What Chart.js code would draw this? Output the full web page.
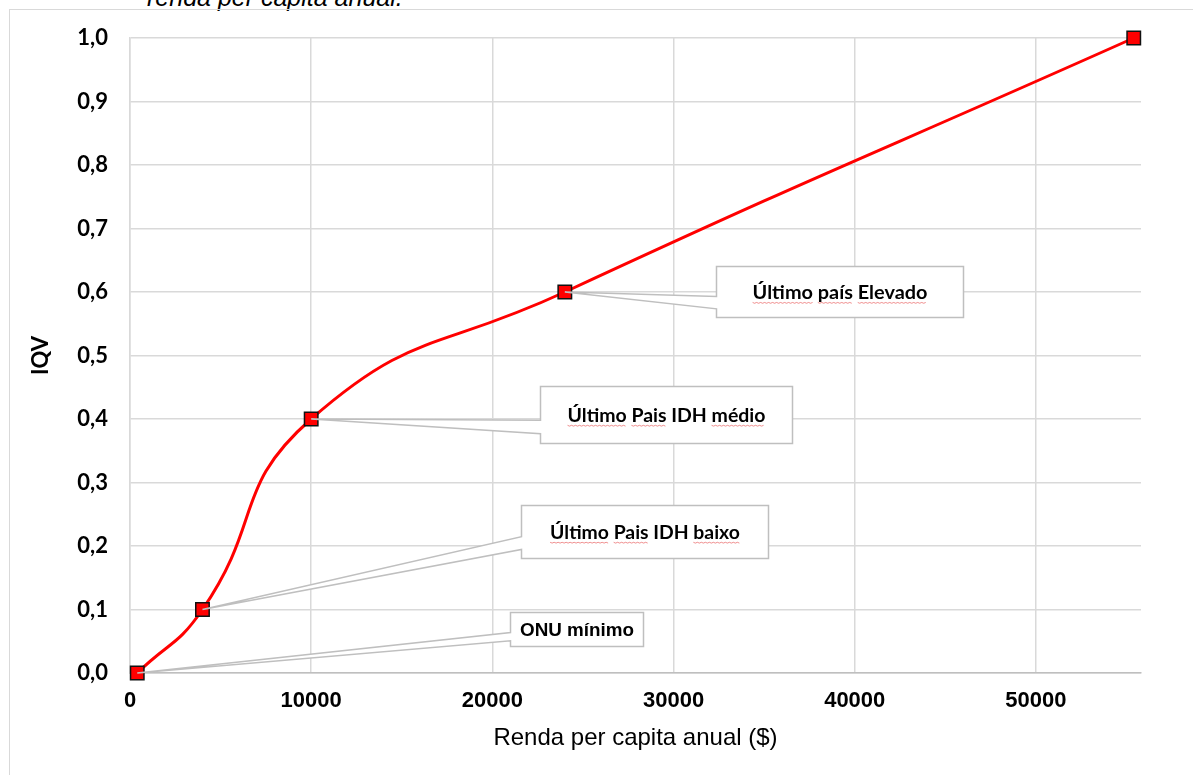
<!DOCTYPE html>
<html>
<head>
<meta charset="utf-8">
<script src="https://cdn.jsdelivr.net/npm/chart.js@4"></script>
<style>
  html, body { margin: 0; padding: 0; background: #fff; overflow: hidden; }
  body { width: 1193px; height: 775px; position: relative; }
  #caption { position: absolute; left: 147px; top: -17px; font: italic 25px "Liberation Sans", Arial, sans-serif; color: #000; white-space: nowrap; }
  #frame { position: absolute; left: 9px; top: 9px; width: 1300px; height: 900px; border: 1px solid #d9d9d9; }
  #wrap { position: absolute; left: 0; top: 0; width: 1193px; height: 775px; }
</style>
</head>
<body>
<div id="caption">renda per capita anual.</div>
<div id="frame"></div>
<div id="wrap"><canvas id="canvas"></canvas></div>
<script>
// data
const renda = [400, 4000, 10000, 24000, 55400];
const iqv = [0, 0.1, 0.4, 0.6, 1.0];
const xTicks = [0, 10000, 20000, 30000, 40000, 50000];
const yTicks = [0, 0.1, 0.2, 0.3, 0.4, 0.5, 0.6, 0.7, 0.8, 0.9, 1.0];
const labelTexts = ['ONU mínimo', 'Último Pais IDH baixo', 'Último Pais IDH médio', 'Último país Elevado'];

const calloutPlugin = {
  id: 'callouts',
  afterDatasetsDraw(chart, args, opts) {
    const {ctx, scales: {x, y}} = chart;
    const meta = chart.getDatasetMeta(0);
    opts.items.forEach(item => {
      const pt = meta.data[item.index];
      const cx = x.getPixelForValue(item.x), cy = y.getPixelForValue(item.y);
      const l = Math.round(cx - item.w / 2) + 0.5, t = Math.round(cy - item.h / 2) + 0.5;
      const r = l + item.w, b = t + item.h;
      const a1 = t + item.h * 0.59, a2 = t + item.h * 0.83;
      ctx.save();
      ctx.beginPath();
      ctx.moveTo(l, t); ctx.lineTo(r, t); ctx.lineTo(r, b); ctx.lineTo(l, b);
      ctx.lineTo(l, a2); ctx.lineTo(pt.x, pt.y); ctx.lineTo(l, a1); ctx.closePath();
      ctx.fillStyle = '#fff';
      ctx.fill();
      ctx.strokeStyle = '#bfbfbf';
      ctx.lineWidth = 1.5;
      ctx.stroke();

      // text, sized to the width seen in the picture
      ctx.font = 'bold 20px ' + item.family;
      const size = 20 * item.textWidth / ctx.measureText(item.text).width;
      ctx.font = 'bold ' + size.toFixed(2) + 'px ' + item.family;
      const tw = ctx.measureText(item.text).width;
      const tx = (l + r) / 2 - tw / 2;
      const base = (t + b) / 2 + size * 0.35;
      ctx.fillStyle = '#000';
      ctx.textBaseline = 'alphabetic';
      ctx.textAlign = 'left';
      ctx.fillText(item.text, tx, base);

      // spell-check squiggles
      (item.flagged || []).forEach(word => {
        const i = item.text.indexOf(word);
        if (i < 0) return;
        const sx = tx + ctx.measureText(item.text.slice(0, i)).width;
        const ww = ctx.measureText(word).width;
        ctx.beginPath();
        for (let k = 0; k <= ww; k += 2) {
          const yy = base + 3.5 + ((k / 2) % 2 ? 0.8 : 0);
          if (k === 0) ctx.moveTo(sx + k, yy); else ctx.lineTo(sx + k, yy);
        }
        ctx.strokeStyle = 'rgba(230,80,80,0.8)';
        ctx.lineWidth = 0.8;
        ctx.stroke();
      });
      ctx.restore();
    });
  }
};

new Chart(document.getElementById('canvas').getContext('2d'), {
  type: 'line',
  data: {
    datasets: [{
      data: renda.map((v, i) => ({x: v, y: iqv[i]})),
      borderColor: '#ff0000',
      borderWidth: 3,
      tension: 0.5,
      pointStyle: 'rect',
      pointRadius: 9.5,
      pointHoverRadius: 9.5,
      pointBackgroundColor: '#ff0000',
      pointBorderColor: '#111',
      pointBorderWidth: 1.5,
      clip: false
    }]
  },
  options: {
    responsive: true,
    maintainAspectRatio: false,
    animation: false,
    events: [],
    layout: { padding: { left: 0, top: 38, right: 52, bottom: 0 } },
    plugins: {
      legend: { display: false },
      tooltip: { enabled: false },
      callouts: {
        items: [
          { index: 0, text: labelTexts[0], x: 24670, y: 0.069, w: 133, h: 34, textWidth: 114, family: '"Liberation Sans", Arial' },
          { index: 1, text: labelTexts[1], x: 28370, y: 0.223, w: 247, h: 53, textWidth: 190, family: 'Lato', flagged: ['Último', 'Pais', 'baixo'] },
          { index: 2, text: labelTexts[2], x: 29610, y: 0.407, w: 252, h: 57, textWidth: 198, family: 'Lato', flagged: ['Último', 'Pais', 'médio'] },
          { index: 3, text: labelTexts[3], x: 39140, y: 0.6005, w: 247, h: 51, textWidth: 175, family: 'Lato', flagged: ['Último', 'país', 'Elevado'] }
        ]
      }
    },
    scales: {
      x: {
        type: 'linear',
        min: 0,
        max: 55800,
        afterBuildTicks: s => { s.ticks = xTicks.map(v => ({value: v})); },
        afterFit: s => { s.height = 102; },
        grid: { color: '#d9d9d9', lineWidth: 1.5, drawTicks: false },
        border: { color: '#bfbfbf', width: 1.5 },
        ticks: {
          padding: 15,
          color: '#000',
          font: { family: '"Liberation Sans", Arial', size: 22, weight: 'bold' },
          callback: v => String(v)
        },
        title: {
          display: true,
          text: 'Renda per capita anual ($)',
          color: '#000',
          font: { family: '"Liberation Sans", Arial', size: 24 },
          padding: { top: 0, bottom: 22 }
        }
      },
      y: {
        min: 0,
        max: 1,
        afterBuildTicks: s => { s.ticks = yTicks.map(v => ({value: v})); },
        afterFit: s => { s.width = 130; },
        grid: { color: '#d9d9d9', lineWidth: 1.5, drawTicks: false },
        border: { color: '#d9d9d9', width: 1.5 },
        ticks: {
          padding: 22,
          color: '#000',
          font: { family: 'Lato', size: 22, weight: 'bold' },
          callback: v => v.toFixed(1).replace('.', ',')
        },
        title: {
          display: true,
          text: 'IQV',
          color: '#000',
          font: { family: 'Lato', size: 22, weight: 'bold' },
          padding: { top: 28, bottom: 0 }
        }
      }
    }
  },
  plugins: [calloutPlugin]
});
</script>
</body>
</html>
